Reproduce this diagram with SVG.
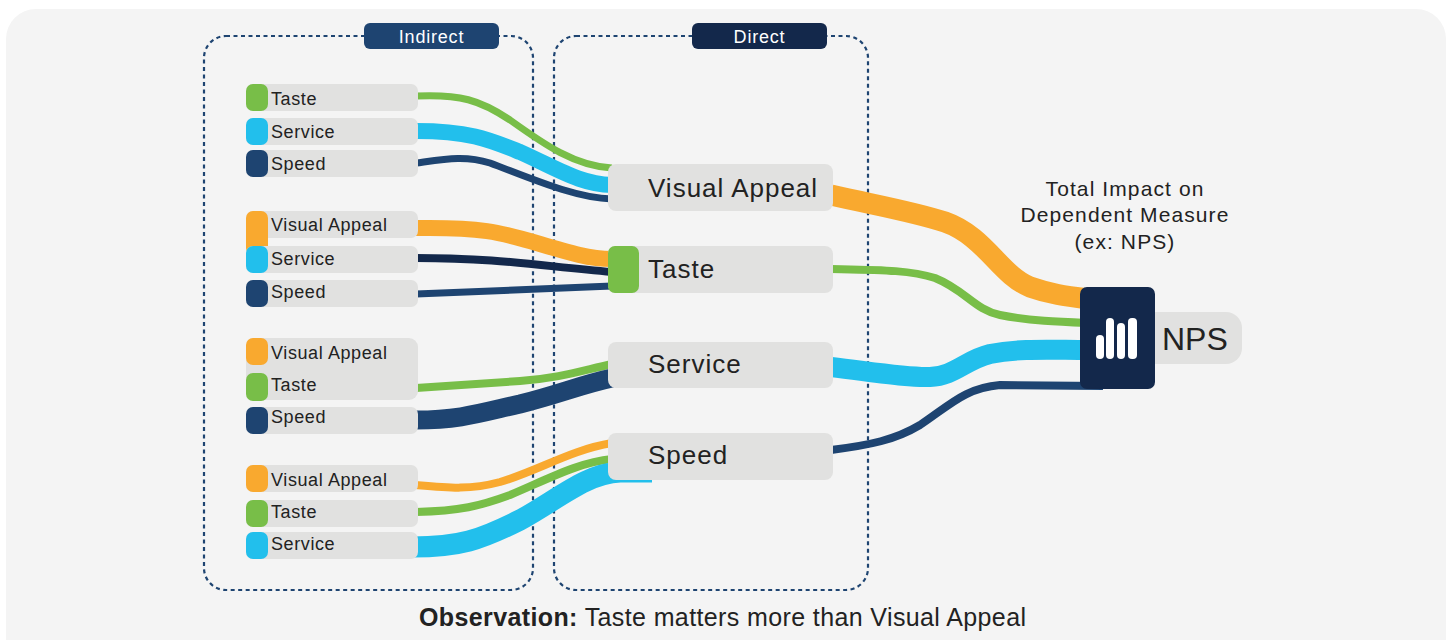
<svg xmlns="http://www.w3.org/2000/svg" width="1449" height="640" viewBox="0 0 1449 640">
<style>
.panel{fill:#f4f4f4}
.frame{fill:none;stroke:#1e4471;stroke-width:2.2;stroke-dasharray:4 3.5}
.item{fill:#e1e1e0}
.lbl{font-family:"Liberation Sans",Arial,sans-serif;font-size:18px;letter-spacing:0.6px;fill:#222}
.dlbl{font-family:"Liberation Sans",Arial,sans-serif;font-size:26px;letter-spacing:1px;fill:#222}
.pilltxt{font-family:"Liberation Sans",Arial,sans-serif;font-size:18px;letter-spacing:0.8px;fill:#fff;text-anchor:middle}
.title{font-family:"Liberation Sans",Arial,sans-serif;font-size:21px;letter-spacing:1.1px;fill:#222;text-anchor:middle}
.c{fill:none;stroke-linecap:butt}
.g{fill:#78be48}.b{fill:#22bfec}.o{fill:#f9a92f}.n{fill:#1e4471}.d{fill:#13284b}
.sg{stroke:#78be48}.sb{stroke:#22bfec}.so{stroke:#f9a92f}.sn{stroke:#1e4471}.sd{stroke:#13284b}
</style>
<rect x="0" y="0" width="1449" height="640" fill="#ffffff"/>
<rect class="panel" x="6" y="9" width="1440" height="660" rx="30"/>

<g id="frames">
<rect class="frame" x="204" y="36" width="329" height="554" rx="22"/>
<rect class="frame" x="554" y="36" width="314" height="554" rx="22"/>
</g>
<g id="label-indirect">
<rect x="364" y="23" width="135" height="26" rx="6" fill="#1e4471"/>
<text class="pilltxt" x="431.5" y="42.5">Indirect</text>
</g>
<g id="label-direct">
<rect x="692" y="23" width="135" height="26" rx="6" fill="#13284b"/>
<text class="pilltxt" x="759.5" y="42.5">Direct</text>
</g>

<g id="connectors">
<path class="c sg" stroke-width="7" d="M416,96 C460,94 480,100 510,120 C545,145 575,166 612,168"/>
<path class="c sb" stroke-width="16" d="M416,131 C470,131 490,140 520,152 C560,170 580,184 612,185"/>
<path class="c sn" stroke-width="7" d="M416,163 C445,159 465,155 490,163 C530,178 575,198 612,199"/>
<path class="c so" stroke-width="16" d="M416,228 C480,227 500,232 540,244 C570,253 590,259 612,259"/>
<path class="c sd" stroke-width="8" d="M416,258 C500,258 540,266 612,272"/>
<path class="c sn" stroke-width="7" d="M416,294 L612,286"/>
<path class="c sg" stroke-width="8" d="M416,388 L520,381 C560,378 580,371 612,364"/>
<path class="c sn" stroke-width="19" d="M416,420 C460,420 480,413 520,404 C560,394 580,385 612,378"/>
<path class="c so" stroke-width="8" d="M416,485 C450,488 470,490 500,482 C540,470 570,450 612,443"/>
<path class="c sg" stroke-width="8" d="M416,512 C460,511 480,506 510,495 C550,478 580,462 612,459"/>
<path class="c sb" stroke-width="21" d="M412,547 C460,547 480,540 520,520 C560,498 585,474 620,472 L652,472"/>
<path class="c so" stroke-width="21" d="M831,195 C880,206 915,212 945,222 C985,236 1000,275 1030,287 C1050,294 1065,296 1088,299"/>
<path class="c sg" stroke-width="8" d="M831,269 C880,270 910,270 935,278 C965,290 975,310 1000,315 C1030,321 1060,322 1088,323"/>
<path class="c sb" stroke-width="20" d="M831,367 C880,373 910,378 930,377 C955,376 965,360 990,354 C1020,348 1050,350 1088,350"/>
<path class="c sn" stroke-width="8" d="M831,450 C870,445 895,440 920,425 C950,405 965,388 1000,385 L1103,386"/>
</g>

<g id="i1-taste"><rect class="item" x="246" y="84" width="172" height="27" rx="7"/><rect class="g" x="246" y="84" width="22" height="27" rx="7"/><text class="lbl" x="271" y="105">Taste</text></g>
<g id="i1-service"><rect class="item" x="246" y="118" width="172" height="27" rx="7"/><rect class="b" x="246" y="118" width="22" height="27" rx="7"/><text class="lbl" x="271" y="138">Service</text></g>
<g id="i1-speed"><rect class="item" x="246" y="150" width="172" height="27" rx="7"/><rect class="n" x="246" y="150" width="22" height="27" rx="7"/><text class="lbl" x="271" y="170">Speed</text></g>
<g id="i2-visual"><rect class="item" x="246" y="211" width="172" height="27" rx="7"/><rect class="o" x="246" y="211" width="22" height="44" rx="7"/><text class="lbl" x="271" y="231">Visual Appeal</text></g>
<g id="i2-service"><rect class="item" x="246" y="246" width="172" height="27" rx="7"/><rect class="b" x="246" y="246" width="22" height="27" rx="7"/><text class="lbl" x="271" y="265">Service</text></g>
<g id="i2-speed"><rect class="item" x="246" y="280" width="172" height="27" rx="7"/><rect class="n" x="246" y="280" width="22" height="27" rx="7"/><text class="lbl" x="271" y="298">Speed</text></g>
<g id="i3-visual-taste"><rect class="item" x="246" y="338" width="172" height="62" rx="9"/><rect class="o" x="246" y="338" width="22" height="27" rx="7"/><text class="lbl" x="271" y="359">Visual Appeal</text><rect class="g" x="246" y="373" width="22" height="28" rx="7"/><text class="lbl" x="271" y="391">Taste</text></g>
<g id="i3-speed"><rect class="item" x="246" y="407" width="172" height="27" rx="7"/><rect class="n" x="246" y="407" width="22" height="27" rx="7"/><text class="lbl" x="271" y="423">Speed</text></g>
<g id="i4-visual"><rect class="item" x="246" y="465" width="172" height="27" rx="7"/><rect class="o" x="246" y="465" width="22" height="27" rx="7"/><text class="lbl" x="271" y="486">Visual Appeal</text></g>
<g id="i4-taste"><rect class="item" x="246" y="500" width="172" height="27" rx="7"/><rect class="g" x="246" y="500" width="22" height="27" rx="7"/><text class="lbl" x="271" y="518">Taste</text></g>
<g id="i4-service"><rect class="item" x="246" y="532" width="172" height="27" rx="7"/><rect class="b" x="246" y="532" width="22" height="27" rx="7"/><text class="lbl" x="271" y="550">Service</text></g>

<g id="d-visual"><rect class="item" x="608" y="164" width="225" height="47" rx="8"/><text class="dlbl" x="648" y="197">Visual Appeal</text></g>
<g id="d-taste"><rect class="item" x="608" y="246" width="225" height="47" rx="8"/><rect class="g" x="608" y="246" width="31" height="47" rx="7"/><text class="dlbl" x="648" y="278">Taste</text></g>
<g id="d-service"><rect class="item" x="608" y="342" width="225" height="46" rx="8"/><text class="dlbl" x="648" y="373">Service</text></g>
<g id="d-speed"><rect class="item" x="608" y="433" width="225" height="47" rx="8"/><text class="dlbl" x="648" y="464">Speed</text></g>

<g id="nps">
<text class="title" x="1125" y="196">Total Impact on</text>
<text class="title" x="1125" y="222">Dependent Measure</text>
<text class="title" x="1125" y="249">(ex: NPS)</text>
<rect class="item" x="1140" y="312" width="102" height="52" rx="16"/>
<rect class="d" x="1080" y="287" width="75" height="102" rx="7"/>
<rect x="1096" y="335" width="8" height="24" rx="4" fill="#fff"/>
<rect x="1106" y="318" width="8" height="41" rx="4" fill="#fff"/>
<rect x="1117" y="323" width="8" height="36" rx="4" fill="#fff"/>
<rect x="1128" y="318" width="9" height="41" rx="4" fill="#fff"/>
<text x="1162" y="350" font-family="Liberation Sans, Arial, sans-serif" font-size="32" fill="#222">NPS</text>
</g>

<g id="observation">
<text x="419" y="626" font-family="Liberation Sans, Arial, sans-serif" font-size="25" fill="#222" textLength="607" lengthAdjust="spacing"><tspan font-weight="bold">Observation:</tspan> Taste matters more than Visual Appeal</text>
</g>
</svg>
